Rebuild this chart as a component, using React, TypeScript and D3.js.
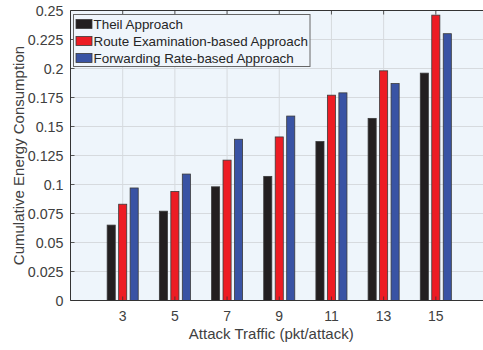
import React from "react";
import * as d3 from "d3";

// Attack traffic levels (pkt/attack)
const categories = [3, 5, 7, 9, 11, 13, 15];
// Cumulative energy consumption per approach
const theil = [0.065, 0.077, 0.098, 0.107, 0.137, 0.157, 0.196];
const routeExam = [0.083, 0.094, 0.121, 0.141, 0.177, 0.198, 0.246];
const forwardRate = [0.097, 0.109, 0.139, 0.159, 0.179, 0.187, 0.23];
const seriesNames = [
  "Theil Approach",
  "Route Examination-based Approach",
  "Forwarding Rate-based Approach",
];
const yTicks = [0, 0.025, 0.05, 0.075, 0.1, 0.125, 0.15, 0.175, 0.2, 0.225, 0.25];
const yTickLabels = ["0", "0.025", "0.05", "0.075", "0.1", "0.125", "0.15", "0.175", "0.2", "0.225", "0.25"];

const W = 483;
const H = 350;
const colors = ["#231f20", "#ed1c24", "#3953a4"];
const FONT = "'Liberation Sans', Arial, Helvetica, sans-serif";

export default function App() {
  const left = 70.5;
  const right = 488;
  const top = 10.5;
  const bottom = 300.5;
  const x = d3.scaleLinear().domain([1, 17]).range([left, right]);
  const y = d3.scaleLinear().domain([0, 0.25]).range([bottom, top]);
  const series = [theil, routeExam, forwardRate];
  const barW = x(1.31) - x(1);
  const gap = 0.44;
  const axisColor = "#333333";
  const textColor = "#404040";
  const gridColor = "#d6dade";

  return (
    <svg
      width={W}
      height={H}
      style={{ position: "absolute", left: 0, top: 0 }}
      fontFamily={FONT}
    >
      <rect x={0} y={0} width={W} height={H} fill="#ffffff" />
      <rect x={left} y={top} width={right - left} height={bottom - top} fill="#eef5fb" />
      {/* grid */}
      {yTicks.map((t) => (
        <line key={"gy" + t} x1={left} x2={right} y1={y(t)} y2={y(t)} stroke={gridColor} strokeWidth={1} />
      ))}
      {categories.map((c) => (
        <line key={"gx" + c} x1={x(c)} x2={x(c)} y1={top} y2={bottom} stroke={gridColor} strokeWidth={1} />
      ))}
      {/* bars */}
      {series.map((vals, si) =>
        vals.map((v, i) => {
          const cx = x(categories[i] + (si - 1) * gap);
          return (
            <rect
              key={`b${si}-${i}`}
              x={cx - barW / 2}
              y={y(v)}
              width={barW}
              height={y(0) - y(v)}
              fill={colors[si]}
              stroke="#3a3a3a"
              strokeWidth={0.8}
            />
          );
        })
      )}
      {/* axes frame */}
      <line x1={left} x2={right} y1={bottom} y2={bottom} stroke={axisColor} strokeWidth={1} />
      <line x1={left} x2={right} y1={top} y2={top} stroke={axisColor} strokeWidth={1} />
      <line x1={left} x2={left} y1={top} y2={bottom} stroke={axisColor} strokeWidth={1} />
      <line x1={right} x2={right} y1={top} y2={bottom} stroke={axisColor} strokeWidth={1} />
      {/* ticks */}
      {categories.map((c) => (
        <g key={"tx" + c}>
          <line x1={x(c)} x2={x(c)} y1={bottom} y2={bottom - 4} stroke={axisColor} strokeWidth={0.8} />
          <line x1={x(c)} x2={x(c)} y1={top} y2={top + 4} stroke={axisColor} strokeWidth={0.8} />
          <text x={x(c)} y={320.5} textAnchor="middle" fontSize={14} fill={textColor}>
            {c}
          </text>
        </g>
      ))}
      {yTicks.map((t, i) => (
        <g key={"ty" + t}>
          <line x1={left} x2={left + 4} y1={y(t)} y2={y(t)} stroke={axisColor} strokeWidth={0.8} />
          <line x1={right} x2={right - 4} y1={y(t)} y2={y(t)} stroke={axisColor} strokeWidth={0.8} />
          <text x={left - 7} y={y(t) + 5} textAnchor="end" fontSize={14.3} fill={textColor}>
            {yTickLabels[i]}
          </text>
        </g>
      ))}
      {/* axis titles */}
      <text x={(left + right) / 2 - 8} y={339} textAnchor="middle" fontSize={15} fill={textColor}>
        Attack Traffic (pkt/attack)
      </text>
      <text
        transform={`translate(23.5,${(top + bottom) / 2}) rotate(-90)`}
        textAnchor="middle"
        fontSize={15}
        fill={textColor}
      >
        Cumulative Energy Consumption
      </text>
      {/* legend */}
      <rect x={73.5} y={14.5} width={236.5} height={52} fill="#eff5fb" stroke="#666666" strokeWidth={1} />
      {seriesNames.map((name, i) => (
        <g key={"lg" + i}>
          <rect x={76} y={19.5 + i * 17} width={16} height={9} fill={colors[i]} stroke="#3a3a3a" strokeWidth={0.8} />
          <text x={93.5} y={28.8 + i * 17} fontSize={13.4} fill="#262626">
            {name}
          </text>
        </g>
      ))}
    </svg>
  );
}
